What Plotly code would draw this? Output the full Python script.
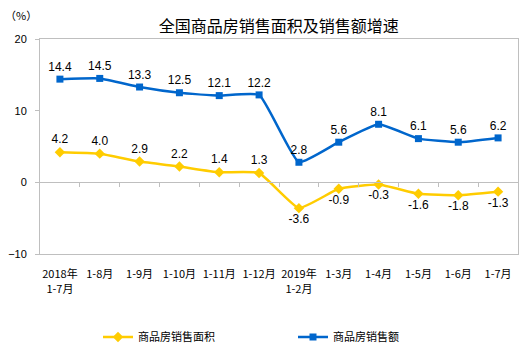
import plotly.graph_objects as go

categories = ["2018年<br>1-7月", "1-8月", "1-9月", "1-10月", "1-11月", "1-12月",
              "2019年<br>1-2月", "1-3月", "1-4月", "1-5月", "1-6月", "1-7月"]
area = [4.2, 4.0, 2.9, 2.2, 1.4, 1.3, -3.6, -0.9, -0.3, -1.6, -1.8, -1.3]
sales = [14.4, 14.5, 13.3, 12.5, 12.1, 12.2, 2.8, 5.6, 8.1, 6.1, 5.6, 6.2]
y_ticks = [-10, 0, 10, 20]

area_pos = ["top center" if v > 0 else "bottom center" for v in area]
xi = list(range(len(categories)))

fig = go.Figure()
fig.add_trace(go.Scatter(
    x=xi, y=area, name="商品房销售面积", mode="lines+markers+text",
    line=dict(color="#FFCC00", width=2.5, shape="spline", smoothing=0.4),
    marker=dict(symbol="diamond", size=8, color="#FFCC00"),
    text=[f"{v:.1f}" for v in area], textposition=area_pos,
    textfont=dict(family="Arial", size=12, color="#000000"),
    legend="legend",
))
fig.add_trace(go.Scatter(
    x=xi, y=sales, name="商品房销售额", mode="lines+markers+text",
    line=dict(color="#0066CC", width=2.5, shape="spline", smoothing=0.4),
    marker=dict(symbol="square", size=7, color="#0066CC"),
    text=[f"{v:.1f}" for v in sales], textposition="top center",
    textfont=dict(family="Arial", size=12, color="#000000"),
    legend="legend2",
))
# invisible trace to attach tick axis at zero
fig.add_trace(go.Scatter(x=xi, y=[0] * len(xi), xaxis="x2", yaxis="y",
                         mode="none", showlegend=False, hoverinfo="skip"))

leg_font = dict(family="Noto Sans CJK SC", size=11, color="#000000")
fig.update_layout(
    width=526, height=354,
    margin=dict(l=40, r=8, t=39, b=100, autoexpand=False),
    paper_bgcolor="white", plot_bgcolor="white",
    title=dict(text="全国商品房销售面积及销售额增速", x=0.53, xanchor="center",
               y=1 - 26 / 354, yanchor="middle",
               font=dict(family="Noto Sans CJK SC", size=16, color="#000000")),
    xaxis=dict(range=[-0.5, 11.5], tickmode="array", tickvals=xi, ticktext=categories,
               ticks="", showline=True, linecolor="#BFBFBF", linewidth=1, mirror=True,
               showgrid=False, zeroline=False, ticklabelstandoff=10, automargin=False,
               tickfont=dict(family="Noto Sans CJK SC", size=11, color="#000000")),
    xaxis2=dict(range=[-0.5, 11.5], overlaying="x", anchor="free", position=1 / 3,
                tickmode="array", tickvals=[i + 0.5 for i in xi[:-1]],
                ticks="outside", ticklen=4, tickcolor="#BFBFBF", showticklabels=False,
                showline=True, linecolor="#BFBFBF", linewidth=1, showgrid=False,
                zeroline=False),
    yaxis=dict(range=[-10, 20], tickmode="array", tickvals=y_ticks,
               ticks="outside", ticklen=4, tickcolor="#BFBFBF",
               showline=True, linecolor="#BFBFBF", linewidth=1, mirror=True,
               showgrid=False, zeroline=False, ticklabelstandoff=6, automargin=False,
               tickfont=dict(family="Arial", size=11, color="#000000")),
    legend=dict(orientation="h", x=(98 - 40) / 478, xanchor="left",
                y=-(337 - 254) / 215, yanchor="middle", font=leg_font,
                itemwidth=30, bgcolor="rgba(0,0,0,0)"),
    legend2=dict(orientation="h", x=(293 - 40) / 478, xanchor="left",
                 y=-(337 - 254) / 215, yanchor="middle", font=leg_font,
                 itemwidth=30, bgcolor="rgba(0,0,0,0)"),
    showlegend=True,
    annotations=[dict(text="（%）", xref="paper", yref="paper",
                      x=(21 - 40) / 478, y=1 + (39 - 15) / 215,
                      xanchor="center", yanchor="middle", showarrow=False,
                      font=dict(family="Noto Sans CJK SC", size=11, color="#000000"))],
)
fig.write_html("out.html")
